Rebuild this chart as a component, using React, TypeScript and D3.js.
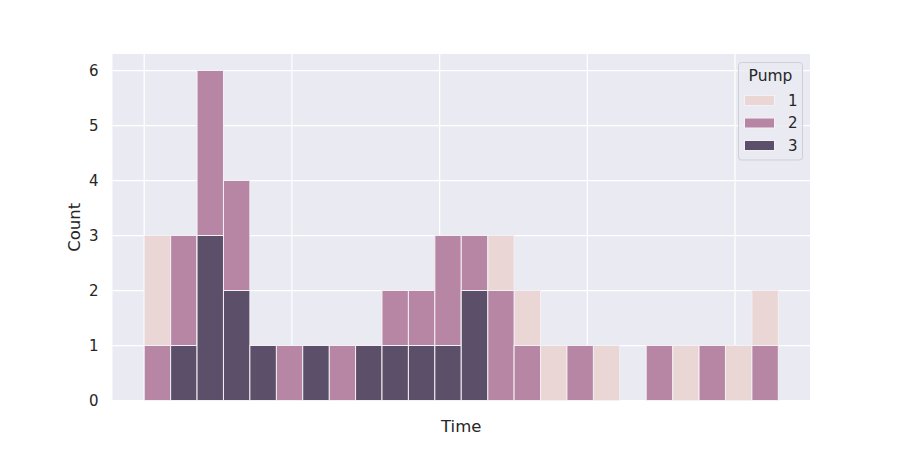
import React, { useEffect } from "react";
import * as d3 from "d3";

// histogram counts per bin (24 bins over the time span), one array per pump
const pump1 = [3, 0, 0, 0, 0, 0, 0, 0, 0, 0, 0, 0, 0, 3, 2, 1, 0, 1, 0, 0, 1, 0, 1, 2];
const pump2 = [1, 3, 6, 4, 0, 1, 0, 1, 0, 2, 2, 3, 3, 2, 1, 0, 1, 0, 0, 1, 0, 1, 0, 1];
const pump3 = [0, 1, 3, 2, 1, 0, 1, 0, 1, 1, 1, 1, 2, 0, 0, 0, 0, 0, 0, 0, 0, 0, 0, 0];

const pumps = ["1", "2", "3"];
const pumpColors = ["#ebd6d6", "#b886a5", "#5b4f69"];

// time span in days, grid ticks every day (no labels shown)
const timeEnd = 4.293;
const timeTicks = [0, 1, 2, 3, 4];
const countTicks = [0, 1, 2, 3, 4, 5, 6];

const W = 900;
const H = 450;
const margin = { left: 112.5, right: 90, top: 54, bottom: 49.5 };
const textColor = "#262626";
const font = "DejaVu Sans, sans-serif";

const App: React.FC = () => {
  useEffect(() => {
    document.body.style.margin = "0";
  }, []);

  const innerW = W - margin.left - margin.right;
  const innerH = H - margin.top - margin.bottom;

  const x = d3
    .scaleLinear()
    .domain([-timeEnd * 0.05, timeEnd * 1.05])
    .range([margin.left, margin.left + innerW]);
  const y = d3
    .scaleLinear()
    .domain([0, 6.3])
    .range([margin.top + innerH, margin.top]);

  const nBins = pump1.length;
  const binW = timeEnd / nBins;
  const series = [pump1, pump2, pump3];

  return (
    <svg width={W} height={H} style={{ display: "block", background: "#fff" }}>
      <rect
        x={margin.left}
        y={margin.top}
        width={innerW}
        height={innerH}
        fill="#eaeaf2"
      />
      {/* grid */}
      {countTicks.map((t) => (
        <line
          key={"gy" + t}
          x1={margin.left}
          x2={margin.left + innerW}
          y1={y(t)}
          y2={y(t)}
          stroke="#fff"
          strokeWidth={1.25}
        />
      ))}
      {timeTicks.map((t) => (
        <line
          key={"gx" + t}
          x1={x(t)}
          x2={x(t)}
          y1={margin.top}
          y2={margin.top + innerH}
          stroke="#fff"
          strokeWidth={1.25}
        />
      ))}
      {/* layered bars */}
      {series.map((s, si) => (
        <g key={"s" + si}>
          {s.map((c, i) =>
            c > 0 ? (
              <rect
                key={i}
                x={x(i * binW)}
                y={y(c)}
                width={x((i + 1) * binW) - x(i * binW)}
                height={y(0) - y(c)}
                fill={pumpColors[si]}
                stroke="#f4f0f4"
                strokeWidth={1}
              />
            ) : null
          )}
        </g>
      ))}
      {/* y tick labels */}
      {countTicks.map((t) => (
        <text
          key={"ty" + t}
          x={margin.left - 14}
          y={y(t)}
          dy="0.36em"
          textAnchor="end"
          fontFamily={font}
          fontSize={15}
          fill={textColor}
        >
          {t}
        </text>
      ))}
      {/* axis labels */}
      <text
        x={margin.left + innerW / 2}
        y={432}
        textAnchor="middle"
        fontFamily={font}
        fontSize={16.5}
        fill={textColor}
      >
        Time
      </text>
      <text
        transform={`translate(80,${margin.top + innerH / 2}) rotate(-90)`}
        textAnchor="middle"
        fontFamily={font}
        fontSize={16.5}
        fill={textColor}
      >
        Count
      </text>
      {/* legend */}
      <g>
        <rect
          x={738.5}
          y={62.5}
          width={64}
          height={97.5}
          rx={3}
          fill="#eaeaf2"
          fillOpacity={0.8}
          stroke="#cfcfd6"
          strokeWidth={1}
        />
        <text
          x={770.5}
          y={81}
          textAnchor="middle"
          fontFamily={font}
          fontSize={15.5}
          fill={textColor}
        >
          Pump
        </text>
        {pumps.map((p, i) => (
          <g key={"lg" + p} transform={`translate(0,${i * 22.5})`}>
            <rect
              x={744.5}
              y={95.5}
              width={30}
              height={10}
              fill={pumpColors[i]}
              stroke="#f4f0f4"
              strokeWidth={1}
            />
            <text
              x={788}
              y={100.5}
              dy="0.36em"
              fontFamily={font}
              fontSize={15}
              fill={textColor}
            >
              {p}
            </text>
          </g>
        ))}
      </g>
    </svg>
  );
};

export default App;
